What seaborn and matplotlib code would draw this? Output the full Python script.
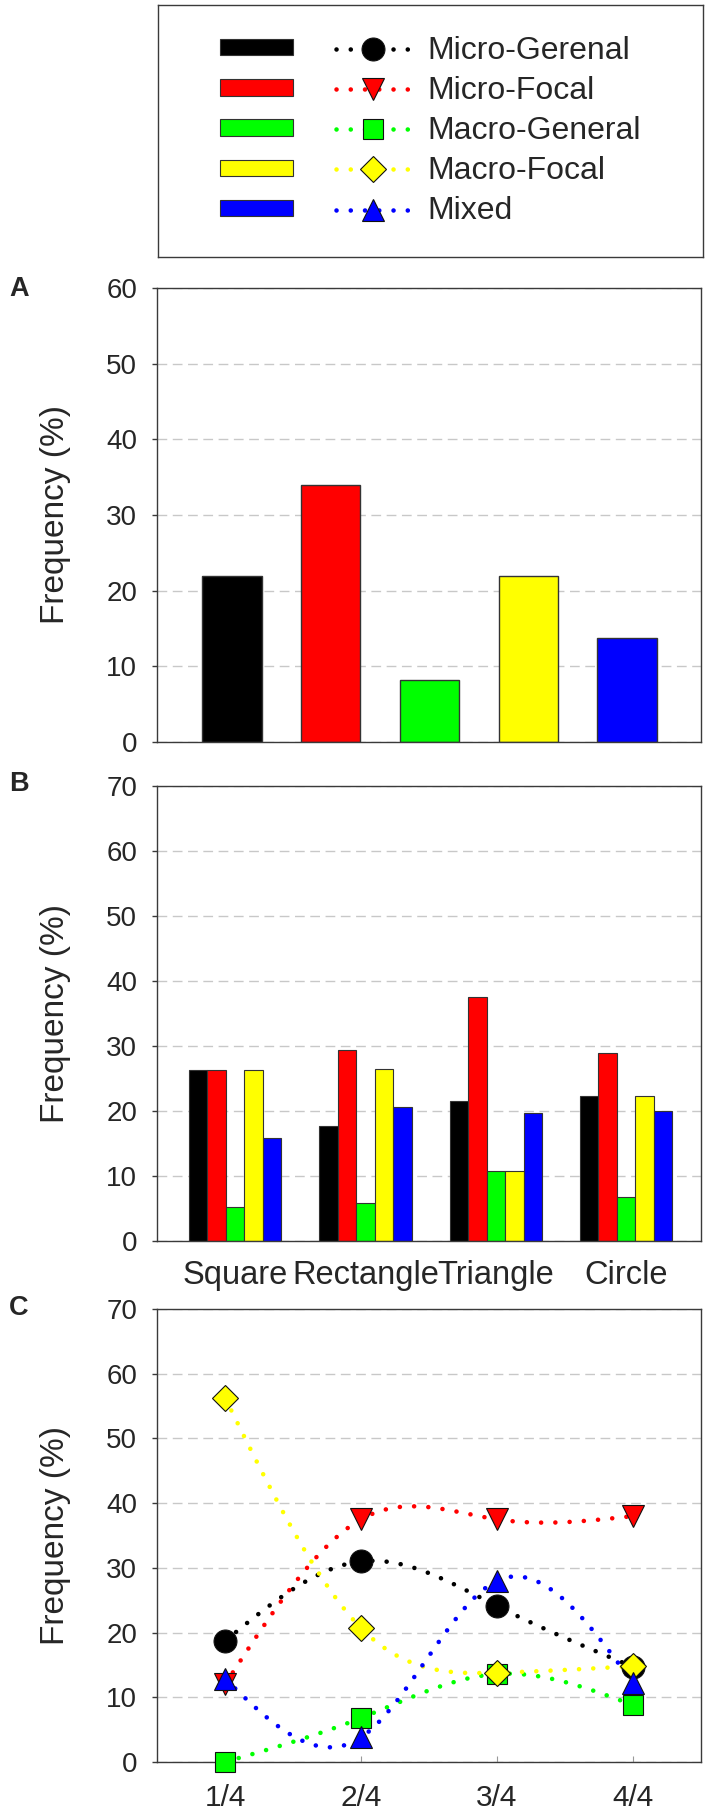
import numpy as np
import pandas as pd
import matplotlib
matplotlib.use("Agg")
import matplotlib.pyplot as plt
import seaborn as sns
from matplotlib.patches import Patch
from matplotlib.lines import Line2D
from matplotlib.legend_handler import HandlerTuple

# ---------------- data ----------------
types = ["Micro-Gerenal", "Micro-Focal", "Macro-General", "Macro-Focal", "Mixed"]
colors = ["#000000", "#ff0000", "#00ff00", "#ffff00", "#0000ff"]
markers = ["o", "v", "s", "D", "^"]
marker_sizes = [16.5, 15.5, 14.0, 13.2, 15.5]

# Panel A: overall frequency
freq_overall = [22.0, 33.9, 8.2, 22.0, 13.7]

# Panel B: by shape
shapes = ["Square", "Rectangle", "Triangle", "Circle"]
shape_micro_general = [26.3, 17.7, 21.5, 22.3]
shape_micro_focal = [26.3, 29.4, 37.5, 28.9]
shape_macro_general = [5.3, 5.9, 10.7, 6.7]
shape_macro_focal = [26.3, 26.5, 10.7, 22.3]
shape_mixed = [15.8, 20.6, 19.7, 20.0]

# Panel C: by quarter
quarters = ["1/4", "2/4", "3/4", "4/4"]
q_micro_general = [18.7, 31.0, 24.1, 14.7]
q_micro_focal = [12.0, 37.5, 37.5, 38.0]
q_macro_general = [0.0, 6.8, 13.6, 8.8]
q_macro_focal = [56.3, 20.7, 13.8, 14.8]
q_mixed = [12.9, 3.8, 28.0, 12.2]

shape_series = [shape_micro_general, shape_micro_focal, shape_macro_general,
                shape_macro_focal, shape_mixed]
quarter_series = [q_micro_general, q_micro_focal, q_macro_general,
                  q_macro_focal, q_mixed]

# ---------------- style ----------------
sns.set_theme(style="white")
plt.rcParams["font.family"] = ["Liberation Sans", "DejaVu Sans"]

W, H = 708, 1812
fig = plt.figure(figsize=(W / 100, H / 100), dpi=100)


def rect(l, t, r, b):
    return [l / W, 1 - b / H, (r - l) / W, (b - t) / H]


axA = fig.add_axes(rect(157, 288, 701, 742))
axB = fig.add_axes(rect(157, 786, 701, 1241))
axC = fig.add_axes(rect(157, 1309, 701, 1762))
lax = fig.add_axes(rect(158, 5, 703, 257))

SPINE = "#3a3a3a"


def style_axis(ax, ymax):
    ax.set_ylim(0, ymax)
    ax.set_yticks(range(0, ymax + 1, 10))
    ax.yaxis.grid(True, color="#c8c8c8", lw=1.0, linestyle=(0, (7, 4)))
    ax.xaxis.grid(False)
    ax.set_axisbelow(True)
    for s in ax.spines.values():
        s.set_color(SPINE)
        s.set_linewidth(1.0)
    ax.tick_params(axis="y", direction="out", length=3.6, width=1.0,
                   color=SPINE, labelsize=20, pad=10.8, left=True)
    ax.set_ylabel("Frequency (%)", fontsize=24, va="center")
    ax.yaxis.set_label_coords(-0.186, 0.5)


# ---------------- Panel A ----------------
dfA = pd.DataFrame({"type": types, "freq": freq_overall})
sns.barplot(data=dfA, x="type", y="freq", hue="type", hue_order=types,
            palette=colors, width=0.6, saturation=1, edgecolor="#333333",
            linewidth=1.0, legend=False, ax=axA)
style_axis(axA, 60)
axA.set_xlim(-0.76, 4.75)
axA.set_xticks([])
axA.set_xlabel("")

# ---------------- Panel B ----------------
rows = []
for t, vals in zip(types, shape_series):
    for s, v in zip(shapes, vals):
        rows.append({"shape": s, "type": t, "freq": v})
dfB = pd.DataFrame(rows)
sns.barplot(data=dfB, x="shape", y="freq", hue="type", hue_order=types,
            order=shapes, palette=colors, width=0.71, saturation=1,
            edgecolor="#333333", linewidth=0.8, legend=False, ax=axB)
style_axis(axB, 70)
axB.set_xlim(-0.6, 3.575)
axB.set_xlabel("")
axB.tick_params(axis="x", length=0, labelsize=23.5, pad=14)


# ---------------- Panel C ----------------
def natural_spline(x, y, xs):
    x = np.asarray(x, float)
    y = np.asarray(y, float)
    n = len(x)
    h = np.diff(x)
    A = np.zeros((n, n))
    r = np.zeros(n)
    A[0, 0] = A[-1, -1] = 1
    for i in range(1, n - 1):
        A[i, i - 1] = h[i - 1]
        A[i, i] = 2 * (h[i - 1] + h[i])
        A[i, i + 1] = h[i]
        r[i] = 6 * ((y[i + 1] - y[i]) / h[i] - (y[i] - y[i - 1]) / h[i - 1])
    M = np.linalg.solve(A, r)
    idx = np.clip(np.searchsorted(x, xs) - 1, 0, n - 2)
    x0, x1 = x[idx], x[idx + 1]
    hh = x1 - x0
    t0, t1 = x1 - xs, xs - x0
    return ((M[idx] * t0 ** 3 + M[idx + 1] * t1 ** 3) / (6 * hh)
            + (y[idx] / hh - M[idx] * hh / 6) * t0
            + (y[idx + 1] / hh - M[idx + 1] * hh / 6) * t1)


xq = np.arange(1, len(quarters) + 1)
xs = np.linspace(1, len(quarters), 300)
DOTS = (0, (0.01, 3.1))
for vals, c in zip(quarter_series, colors):
    axC.plot(xs, natural_spline(xq, vals, xs), color=c, lw=3.3,
             linestyle=DOTS, dash_capstyle="round", zorder=2)
for i, (vals, c, m, ms) in enumerate(zip(quarter_series, colors, markers, marker_sizes)):
    axC.plot(xq, vals, linestyle="none", marker=m, ms=ms, mfc=c,
             mec="#111111", mew=0.8, zorder=3 + i, clip_on=False)
style_axis(axC, 70)
axC.set_xlim(0.5, len(quarters) + 0.5)
axC.set_xticks(xq, quarters)
axC.tick_params(axis="x", direction="in", length=4, width=0.8,
                color="#999999", labelsize=21.5, pad=15.5, bottom=True)

# ---------------- panel letters ----------------
for letter, base in [("A", 296), ("B", 791), ("C", 1315)]:
    fig.text(9 / W, 1 - base / H, letter, fontsize=19.5, fontweight="bold",
             ha="left", va="baseline")

# ---------------- legend box ----------------
lax.set_xticks([])
lax.set_yticks([])
lax.set_facecolor("white")
for s in lax.spines.values():
    s.set_color(SPINE)
    s.set_linewidth(1.0)

handles = []
for c, m, ms in zip(colors, markers, marker_sizes):
    p = Patch(facecolor=c, edgecolor="#333333", linewidth=0.8)
    ln = Line2D([], [], color=c, lw=3.3, linestyle=DOTS, dash_capstyle="round",
                marker=m, ms=ms, mfc=c, mec="#111111", mew=0.8)
    handles.append((p, ln))

lax.legend(handles=handles, labels=types, loc="center", frameon=False,
           fontsize=23, handler_map={tuple: HandlerTuple(ndivide=None, pad=1.35)},
           handlelength=5.95, handleheight=0.41, handletextpad=0.56,
           labelspacing=0.32, borderpad=0)

fig.savefig("out.png", dpi=100)
